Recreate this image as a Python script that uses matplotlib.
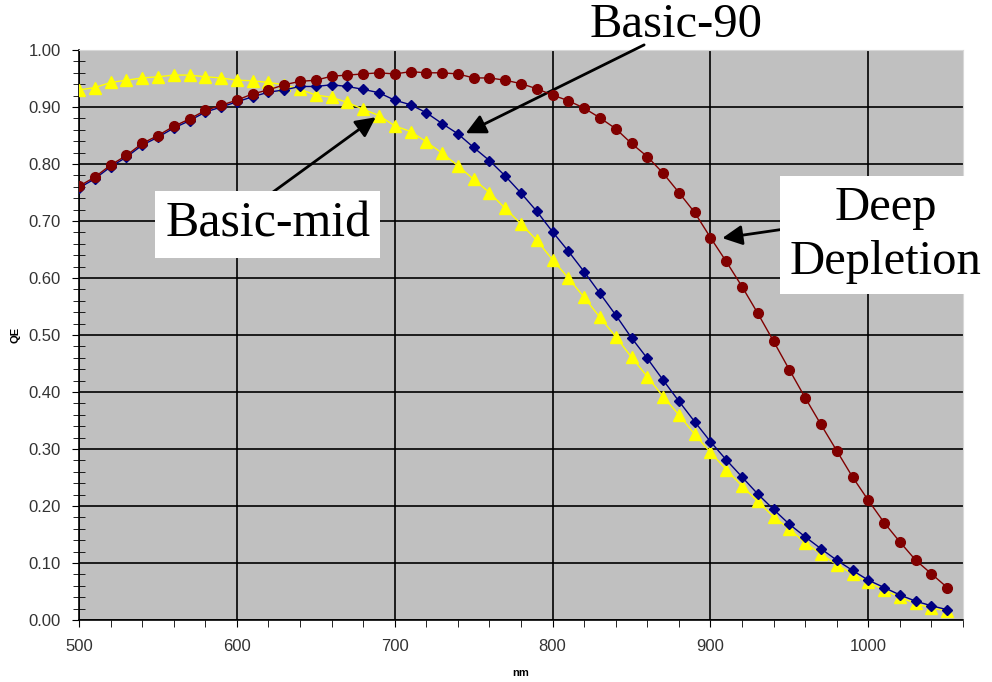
import numpy as np
import matplotlib.pyplot as plt
from matplotlib.ticker import MultipleLocator, FormatStrFormatter

# wavelength grid (nm)
nm = list(range(500, 1051, 10))

# Deep Depletion
deep = [0.761, 0.777, 0.798, 0.815, 0.836, 0.850, 0.866, 0.879, 0.894, 0.903,
        0.912, 0.923, 0.930, 0.939, 0.945, 0.947, 0.954, 0.956, 0.958, 0.960,
        0.958, 0.962, 0.960, 0.960, 0.958, 0.951, 0.951, 0.947, 0.941, 0.932,
        0.921, 0.911, 0.898, 0.881, 0.862, 0.836, 0.813, 0.784, 0.750, 0.715,
        0.671, 0.629, 0.585, 0.538, 0.489, 0.439, 0.390, 0.343, 0.297, 0.251,
        0.210, 0.171, 0.137, 0.105, 0.081, 0.057]

# Basic-90
basic90 = [0.758, 0.774, 0.795, 0.812, 0.833, 0.847, 0.863, 0.876, 0.891, 0.900,
           0.909, 0.918, 0.926, 0.930, 0.936, 0.936, 0.939, 0.936, 0.931, 0.925,
           0.912, 0.904, 0.890, 0.871, 0.853, 0.829, 0.806, 0.779, 0.749, 0.717,
           0.681, 0.647, 0.611, 0.573, 0.535, 0.495, 0.459, 0.421, 0.384, 0.348,
           0.313, 0.281, 0.251, 0.221, 0.194, 0.168, 0.146, 0.125, 0.105, 0.087,
           0.070, 0.057, 0.044, 0.033, 0.025, 0.018]

# Basic-mid
basicmid = [0.930, 0.934, 0.943, 0.947, 0.951, 0.953, 0.956, 0.956, 0.953, 0.951,
            0.947, 0.946, 0.943, 0.939, 0.931, 0.921, 0.917, 0.908, 0.896, 0.885,
            0.867, 0.857, 0.839, 0.819, 0.797, 0.773, 0.750, 0.722, 0.695, 0.666,
            0.632, 0.600, 0.566, 0.531, 0.497, 0.461, 0.427, 0.392, 0.360, 0.326,
            0.294, 0.264, 0.235, 0.208, 0.181, 0.160, 0.135, 0.116, 0.097, 0.081,
            0.066, 0.053, 0.040, 0.029, 0.021, 0.016]

fig = plt.figure(figsize=(9.92, 6.82), dpi=100)
ax = fig.add_axes([79/992, 62/682, 884/992, 570/682])
ax.set_facecolor('#c0c0c0')

ax.plot(nm, basicmid, color='#ffff00', lw=1, marker='^', ms=9, zorder=3)
ax.plot(nm, basic90, color='#000080', lw=1, marker='D', ms=5.5, zorder=4)
ax.plot(nm, deep, color='#800000', lw=1, marker='o', ms=7, zorder=5)

ax.set_xlim(500, 1060)
ax.set_ylim(0, 1.0)
ax.xaxis.set_major_locator(MultipleLocator(100))
ax.xaxis.set_minor_locator(MultipleLocator(20))
ax.yaxis.set_major_locator(MultipleLocator(0.1))
ax.yaxis.set_minor_locator(MultipleLocator(0.02))
ax.yaxis.set_major_formatter(FormatStrFormatter('%.2f'))
ax.grid(True, which='major', color='black', lw=1.2)
ax.set_axisbelow(True)

for s in ['top', 'right']:
    ax.spines[s].set_color('#d8d8d8')
for s in ['left', 'bottom']:
    ax.spines[s].set_color('black')
    ax.spines[s].set_linewidth(1.2)

ax.tick_params(axis='y', which='major', direction='out', length=5, pad=8,
               labelsize=12, labelcolor='#333333')
ax.tick_params(axis='y', which='minor', direction='inout', length=8)
ax.tick_params(axis='x', which='both', direction='out', length=5, pad=9,
               labelsize=12, labelcolor='#333333')
for lab in ax.get_xticklabels() + ax.get_yticklabels():
    lab.set_family('Liberation Sans')

ax.set_ylabel('QE', fontsize=8, fontweight='bold', labelpad=6, family='Liberation Sans')
ax.set_xlabel('nm', fontsize=8, fontweight='bold', labelpad=10, family='Liberation Sans')

serif = 'Liberation Serif'
arrow = dict(arrowstyle='-|>', color='black', lw=2, mutation_scale=30,
             shrinkA=0, shrinkB=0)

ax.annotate('', xy=(745, 0.854), xytext=(858, 1.009), arrowprops=arrow,
            annotation_clip=False)
ax.text(878, 1.043, 'Basic-90', fontsize=35, family=serif, ha='center',
        va='center', clip_on=False)

ax.annotate('', xy=(688, 0.882), xytext=(621, 0.747), arrowprops=arrow,
            annotation_clip=False)
ax.text(619.5, 0.694, 'Basic-mid', fontsize=36, family=serif, ha='center',
        va='center', zorder=6,
        bbox=dict(boxstyle='square,pad=0.2', fc='white', ec='none'))

ax.annotate('', xy=(907.5, 0.670), xytext=(964.5, 0.693), arrowprops=arrow,
            annotation_clip=False)
ax.text(1011, 0.676, 'Deep\nDepletion', fontsize=35, family=serif, ha='center',
        va='center', multialignment='center', linespacing=1.3, zorder=6,
        clip_on=False,
        bbox=dict(boxstyle='square,pad=0.2', fc='white', ec='none'))

plt.savefig('out.png', dpi=100)
